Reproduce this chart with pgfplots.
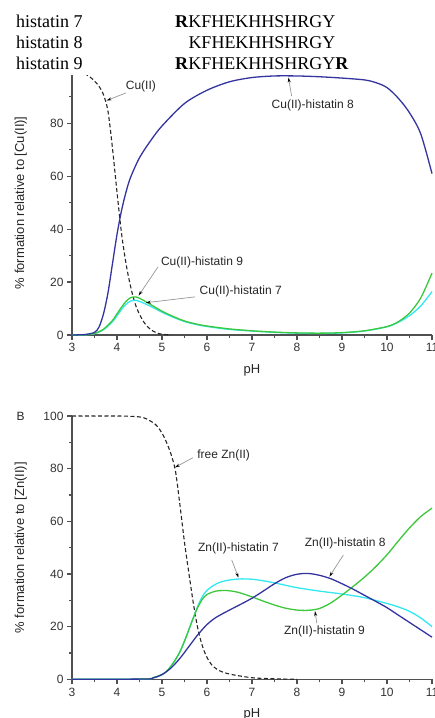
\documentclass[border=0pt]{standalone}
\usepackage{fontspec}
\setmainfont{Liberation Sans}
\newfontfamily\headfont{Liberation Serif}
\usepackage{pgfplots}
\pgfplotsset{compat=1.18}
\usetikzlibrary{arrows.meta}

\definecolor{cblue}{RGB}{52,52,160}
\definecolor{cgreen}{RGB}{60,200,60}
\definecolor{ccyan}{RGB}{50,232,242}
\definecolor{axgray}{RGB}{80,80,80}
\definecolor{argray}{RGB}{150,150,150}

\tikzset{
  ann/.style={font=\fontsize{12}{14}\selectfont, text=black!85},
  arr/.style={argray, line width=0.7pt, -{Stealth[length=5pt,width=3pt,color=black]}},
}

\pgfplotsset{
  specplot/.style={
    scale only axis, width=360pt,
    xmin=3, xmax=11, ymin=0, ymax=100,
    axis x line*=bottom, axis y line*=left,
    axis line style={axgray, line width=1.4pt},
    xtick={3,...,11},
    minor x tick num=1,
    tick align=outside,
    major tick length=5pt, minor tick length=3pt,
    tick style={axgray, line width=1.2pt},
    tick label style={font=\fontsize{12}{14}\selectfont, text=black!80},
    /pgf/number format/assume math mode=true,
    label style={font=\fontsize{13}{15}\selectfont, text=black!85},
    xlabel={pH},
    xlabel style={at={(axis description cs:0.5,0)}, anchor=center, yshift=-35pt},
    ylabel style={at={(axis description cs:-0.142,0.5)}, anchor=center},
    clip=false,
  },
  free/.style={black!85, line width=1.1pt, dash pattern=on 4pt off 2.5pt, smooth},
  cb/.style={cblue, line width=1.3pt, smooth},
  cg/.style={cgreen, line width=1.3pt, smooth},
  cc/.style={ccyan, line width=1.3pt, smooth},
}

\begin{document}
\begin{tikzpicture}[x=1pt,y=1pt]

% ---- top panel: Cu(II)
\begin{axis}[specplot, height=264.6pt, at={(72pt,-335pt)}, anchor=south west,
  ytick={0,20,...,80}, minor ytick={10,30,50,70,90},
  ylabel={\% formation relative to [Cu(II)]}]
\addplot[free] coordinates {(3,100) (3.2,99.5) (3.4,97.5) (3.5,96) (3.6,94)
  (3.7,90.8) (3.8,84.5) (3.9,70.5) (4.0,54) (4.1,38.5) (4.2,27) (4.3,18.5) (4.4,12)
  (4.5,7.8) (4.6,4.8) (4.7,2.8) (4.8,1.5) (4.9,0.7) (5.0,0.3) (5.2,0)};
\addplot[cc] coordinates {(3,0) (3.3,0.1) (3.5,0.5) (3.7,2) (3.9,5) (4.0,7.3)
  (4.1,9.6) (4.2,11.6) (4.3,12.8) (4.4,13.1) (4.5,12.7) (4.75,10.8) (5.0,8.6)
  (5.25,6.7) (5.5,5.1) (5.75,4.0) (6.0,3.2) (6.5,2.1) (7.0,1.5) (7.5,1.0)
  (8.0,0.7) (8.5,0.6) (9.0,0.8) (9.5,1.5) (10.0,3.1) (10.25,4.8) (10.5,7.3)
  (10.75,11) (11,16.4)};
\addplot[cg] coordinates {(3,0) (3.3,0.1) (3.5,0.6) (3.7,2.2) (3.9,5.5) (4.0,8)
  (4.1,10.5) (4.2,12.7) (4.3,14.1) (4.4,14.4) (4.5,13.9) (4.75,11.5) (5.0,9)
  (5.25,7) (5.5,5.3) (5.75,4.2) (6.0,3.4) (6.5,2.3) (7.0,1.6) (7.5,1.1)
  (8.0,0.8) (8.5,0.7) (9.0,0.9) (9.5,1.6) (10.0,3.2) (10.25,5) (10.5,8.3)
  (10.75,14) (11,23.4)};
\addplot[cb] coordinates {(3,0) (3.3,0.2) (3.5,1) (3.6,3) (3.7,8) (3.8,16)
  (3.9,27) (4.0,38) (4.1,47) (4.2,54) (4.3,59.5) (4.5,67) (4.75,73.5) (5.0,79)
  (5.5,87.5) (6.0,92.5) (6.5,95.7) (7.0,97.3) (7.5,97.9) (8.0,97.9) (8.5,97.6)
  (9.0,97.1) (9.5,96.4) (9.75,95.4) (10.0,93.5) (10.25,89.5) (10.5,84)
  (10.75,76) (11.0,61)};
\node[ann] at (axis cs:4.53,94.1) {Cu(II)};
\draw[arr] (axis cs:4.2,91.5) -- (axis cs:3.77,88.6);
\node[ann] at (axis cs:8.35,86.9) {Cu(II)-histatin 8};
\draw[arr] (axis cs:7.88,90.3) -- (axis cs:7.81,97.3);
\node[ann] at (axis cs:5.89,27.6) {Cu(II)-histatin 9};
\draw[arr] (axis cs:4.91,25.7) -- (axis cs:4.48,14.9);
\node[ann] at (axis cs:6.75,16.6) {Cu(II)-histatin 7};
\draw[arr] (axis cs:5.73,14.4) -- (axis cs:4.64,12.2);
\end{axis}

% ---- bottom panel: Zn(II)
\begin{axis}[specplot, height=263.3pt, at={(72pt,-679.3pt)}, anchor=south west,
  ytick={0,20,...,100}, minor y tick num=1,
  ylabel={\% formation relative to [Zn(II)]}]
\addplot[free] coordinates {(3,100) (4.0,100) (4.4,99.8) (4.6,99.3) (4.8,97.5)
  (4.9,96) (5.0,93.5) (5.1,90) (5.2,85.5) (5.3,79) (5.4,66) (5.5,52) (5.6,40)
  (5.7,28.5) (5.8,19) (5.9,12.5) (6.0,8.3) (6.1,5.6) (6.25,3.5) (6.5,2)
  (7.0,0.6) (7.5,0.2) (8,0)};
\addplot[cc] coordinates {(3,0) (4.6,0.1) (4.8,0.6) (5.0,1.8) (5.1,3) (5.2,5)
  (5.3,7.5) (5.4,10.5) (5.5,14.5) (5.6,19) (5.7,23.5) (5.8,28) (5.9,31.5)
  (6.0,33.8) (6.2,36.2) (6.4,37.4) (6.7,38.1) (7.0,38) (7.33,37.2) (7.67,36)
  (8.0,34.8) (8.5,33.5) (9.0,32.4) (9.5,31) (10.0,28.8) (10.25,27.5)
  (10.5,25.8) (10.75,23.3) (11.0,20)};
\addplot[cg] coordinates {(3,0) (4.6,0.1) (4.8,0.6) (5.0,1.8) (5.1,3) (5.2,5)
  (5.3,7.5) (5.4,10.5) (5.5,14.5) (5.6,19) (5.7,23.5) (5.8,27.5) (5.9,30.5)
  (6.0,32.2) (6.2,33.5) (6.45,33.7) (6.7,33) (7.0,31.3) (7.25,29.7) (7.5,28.2)
  (7.75,27) (8.0,26.3) (8.25,26.2) (8.5,26.9) (8.75,29) (9.0,32) (9.25,35.3)
  (9.5,38.8) (9.75,42.8) (10.0,47.3) (10.25,52.5) (10.5,57.5) (10.75,61.8)
  (11.0,65)};
\addplot[cb] coordinates {(3,0) (4.6,0.1) (4.8,0.5) (5.0,1.8) (5.2,4.3) (5.4,8)
  (5.6,12.5) (5.8,17) (6.0,20.8) (6.2,23.5) (6.5,26.3) (6.75,28.5) (7.0,30.8)
  (7.25,33.5) (7.5,36.3) (7.75,38.6) (8.0,39.9) (8.25,40.2) (8.5,39.5)
  (8.75,38.2) (9.0,36.3) (9.25,34.2) (9.5,31.9) (9.75,29.6) (10.0,27.2)
  (10.25,24.4) (10.5,21.6) (10.75,18.8) (11.0,16)};
\node[ann] at (axis cs:6.37,85.2) {free Zn(II)};
\draw[arr] (axis cs:5.69,84.2) -- (axis cs:5.29,80.5);
\node[ann] at (axis cs:6.70,49.8) {Zn(II)-histatin 7};
\draw[arr] (axis cs:6.55,45.3) -- (axis cs:6.70,38.6);
\node[ann] at (axis cs:9.07,51.7) {Zn(II)-histatin 8};
\draw[arr] (axis cs:9.03,47.2) -- (axis cs:8.72,39.0);
\node[ann] at (axis cs:8.61,18.1) {Zn(II)-histatin 9};
\draw[arr] (axis cs:8.44,21.3) -- (axis cs:8.40,25.9);
\end{axis}

\node[ann] at (20.7,-416.7) {B};

% ---- sequence header over the top of panel A
\fill[white] (0,0) rectangle (435,-74.5);
\begin{scope}[every node/.style={anchor=base west, inner sep=0pt,
    font=\headfont\fontsize{18}{20}\selectfont}]
\node at (16,-27.3) {histatin 7};
\node at (16,-48.3) {histatin 8};
\node at (16,-69.3) {histatin 9};
\node at (175,-27.3) {\textbf{R}KFHEKHHSHRGY};
\node at (188.3,-48.3) {KFHEKHHSHRGY};
\node at (175,-69.3) {\textbf{R}KFHEKHHSHRGY\textbf{R}};
\end{scope}

\pgfresetboundingbox
\path[use as bounding box] (0,0) rectangle (435,-718);
\end{tikzpicture}
\end{document}
